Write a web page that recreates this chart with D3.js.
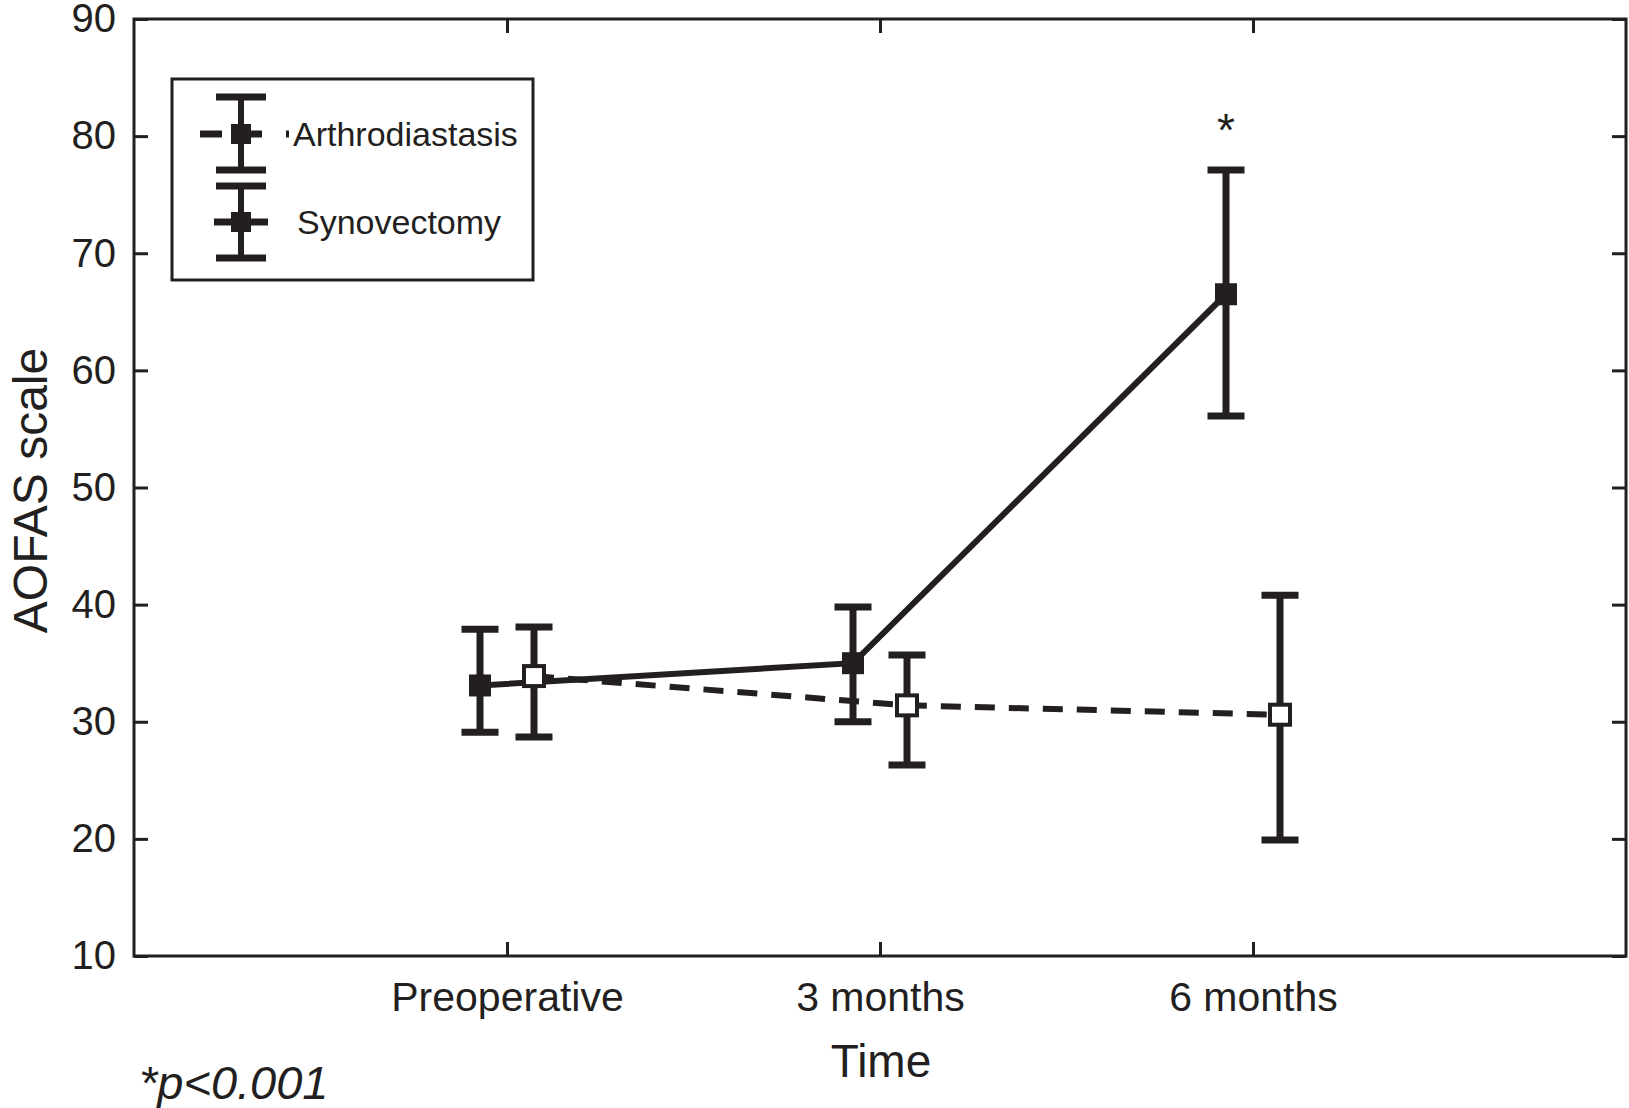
<!DOCTYPE html>
<html>
<head>
<meta charset="utf-8">
<script src="https://cdn.jsdelivr.net/npm/d3@7"></script>
<style>
  html, body { margin: 0; padding: 0; background: #fff; }
  svg { display: block; font-family: "Liberation Sans", Arial, sans-serif; }
</style>
</head>
<body>
<svg id="chart" width="1629" height="1108"></svg>
<script>
// ---- data ----
const categories = ["Preoperative", "3 months", "6 months"];
const yTicks = [10, 20, 30, 40, 50, 60, 70, 80, 90];

// Synovectomy (solid line, filled squares)
const synovectomyMean  = [33.1, 35.0, 66.5];
const synovectomyUpper = [37.9, 39.8, 77.1];
const synovectomyLower = [29.1, 30.0, 56.1];

// Arthrodiastasis (dashed line, open squares)
const arthroMean  = [33.9, 31.4, 30.6];
const arthroUpper = [38.1, 35.7, 40.8];
const arthroLower = [28.7, 26.3, 19.9];

const seriesNames = ["Arthrodiastasis", "Synovectomy"];
const significance = ["", "", "*"];
const footnote = "*p<0.001";

// ---- layout ----
const svg = d3.select("#chart");
const L = 134, R = 1626, T = 19, B = 956;
const INK = "#231f20";

const x = d3.scaleLinear().domain([0, 4]).range([L, R]);
const y = d3.scaleLinear().domain([10, 90]).range([B, T]);

// frame
svg.append("rect").attr("x", L).attr("y", T).attr("width", R - L).attr("height", B - T)
  .attr("fill", "none").attr("stroke", INK).attr("stroke-width", 3);

const fmtCat = d => categories[d - 1];
const xTickVals = categories.map((c, i) => i + 1);

function styleAxis(g, showLabels, fontSize) {
  g.select(".domain").remove();
  g.selectAll(".tick line").attr("stroke", INK).attr("stroke-width", 3);
  g.selectAll(".tick text").attr("fill", INK).style("font-size", fontSize + "px")
    .style("font-family", "'Liberation Sans', Arial, sans-serif");
  if (!showLabels) g.selectAll(".tick text").remove();
}

svg.append("g").attr("transform", `translate(${L},0)`)
  .call(d3.axisLeft(y).tickValues(yTicks).tickSize(-14).tickPadding(18).tickFormat(d3.format("d")))
  .call(g => styleAxis(g, true, 40));
svg.append("g").attr("transform", `translate(${R},0)`)
  .call(d3.axisRight(y).tickValues(yTicks).tickSize(-14))
  .call(g => styleAxis(g, false, 40));
svg.append("g").attr("transform", `translate(0,${B})`)
  .call(d3.axisBottom(x).tickValues(xTickVals).tickSize(-14).tickPadding(26).tickFormat(fmtCat))
  .call(g => styleAxis(g, true, 41));
svg.append("g").attr("transform", `translate(0,${T})`)
  .call(d3.axisTop(x).tickValues(xTickVals).tickSize(-14))
  .call(g => styleAxis(g, false, 40));

// axis titles
svg.append("text").attr("transform", `translate(47,${(T + B) / 2 + 3}) rotate(-90)`)
  .attr("text-anchor", "middle").attr("fill", INK).style("font-size", "48px").text("AOFAS scale");
svg.append("text").attr("x", 881).attr("y", 1077).attr("text-anchor", "middle")
  .attr("fill", INK).style("font-size", "46px").text("Time");
svg.append("text").attr("x", 139).attr("y", 1099).attr("fill", INK)
  .style("font-size", "47px").style("font-style", "italic").text(footnote);

// ---- series ----
const OFF = 27, CAP = 37, MK = 22;
const series = [
  { name: seriesNames[1], mean: synovectomyMean, up: synovectomyUpper, lo: synovectomyLower, dx: -OFF, dash: null, fill: INK },
  { name: seriesNames[0], mean: arthroMean, up: arthroUpper, lo: arthroLower, dx: OFF, dash: "20,14", fill: "#fff" }
];

// lines first (dashed under solid)
[series[1], series[0]].forEach(s => {
  const line = d3.line().x((d, i) => x(i + 1) + s.dx).y(d => y(d));
  svg.append("path").datum(s.mean).attr("d", line).attr("fill", "none")
    .attr("stroke", INK).attr("stroke-width", 6)
    .attr("stroke-dasharray", s.dash);
});

series.forEach(s => {
  const g = svg.append("g");
  s.mean.forEach((m, i) => {
    const cx = x(i + 1) + s.dx;
    g.append("line").attr("x1", cx).attr("x2", cx).attr("y1", y(s.up[i])).attr("y2", y(s.lo[i]))
      .attr("stroke", INK).attr("stroke-width", 7);
    [s.up[i], s.lo[i]].forEach(v => {
      g.append("line").attr("x1", cx - CAP / 2).attr("x2", cx + CAP / 2).attr("y1", y(v)).attr("y2", y(v))
        .attr("stroke", INK).attr("stroke-width", 7);
    });
    if (s.fill === "#fff") {
      g.append("rect").attr("x", cx - (MK - 2) / 2).attr("y", y(m) - (MK - 2) / 2)
        .attr("width", MK - 2).attr("height", MK - 2)
        .attr("fill", "#fff").attr("stroke", INK).attr("stroke-width", 4);
    } else {
      g.append("rect").attr("x", cx - MK / 2).attr("y", y(m) - MK / 2)
        .attr("width", MK).attr("height", MK).attr("fill", INK);
    }
  });
});

// significance markers
significance.forEach((t, i) => {
  if (!t) return;
  svg.append("text").attr("x", x(i + 1) + series[0].dx).attr("y", y(series[0].up[i]) - 24)
    .attr("text-anchor", "middle").attr("fill", INK).style("font-size", "46px").text(t);
});

// ---- legend ----
const lg = svg.append("g");
lg.append("rect").attr("x", 172).attr("y", 79).attr("width", 361).attr("height", 201)
  .attr("fill", "#fff").attr("stroke", INK).attr("stroke-width", 3);

function legendEntry(cy, capTop, capBot, lineX1, lineX2, dash, textX, label) {
  const ex = 241;
  lg.append("line").attr("x1", lineX1).attr("x2", lineX2).attr("y1", cy).attr("y2", cy)
    .attr("stroke", INK).attr("stroke-width", 7).attr("stroke-dasharray", dash);
  lg.append("line").attr("x1", ex).attr("x2", ex).attr("y1", capTop).attr("y2", capBot)
    .attr("stroke", INK).attr("stroke-width", 6);
  [capTop, capBot].forEach(v => lg.append("line").attr("x1", ex - 25).attr("x2", ex + 25)
    .attr("y1", v).attr("y2", v).attr("stroke", INK).attr("stroke-width", 7));
  lg.append("rect").attr("x", ex - 10).attr("y", cy - 10).attr("width", 20).attr("height", 20).attr("fill", INK);
  lg.append("text").attr("x", textX).attr("y", cy + 12).attr("fill", INK)
    .style("font-size", "34px").text(label);
}
legendEntry(134, 97, 170, 200, 290, "22,29,11,24,3,100", 293, seriesNames[0]);
legendEntry(222, 186, 258, 214, 268, null, 297, seriesNames[1]);
</script>
</body>
</html>
